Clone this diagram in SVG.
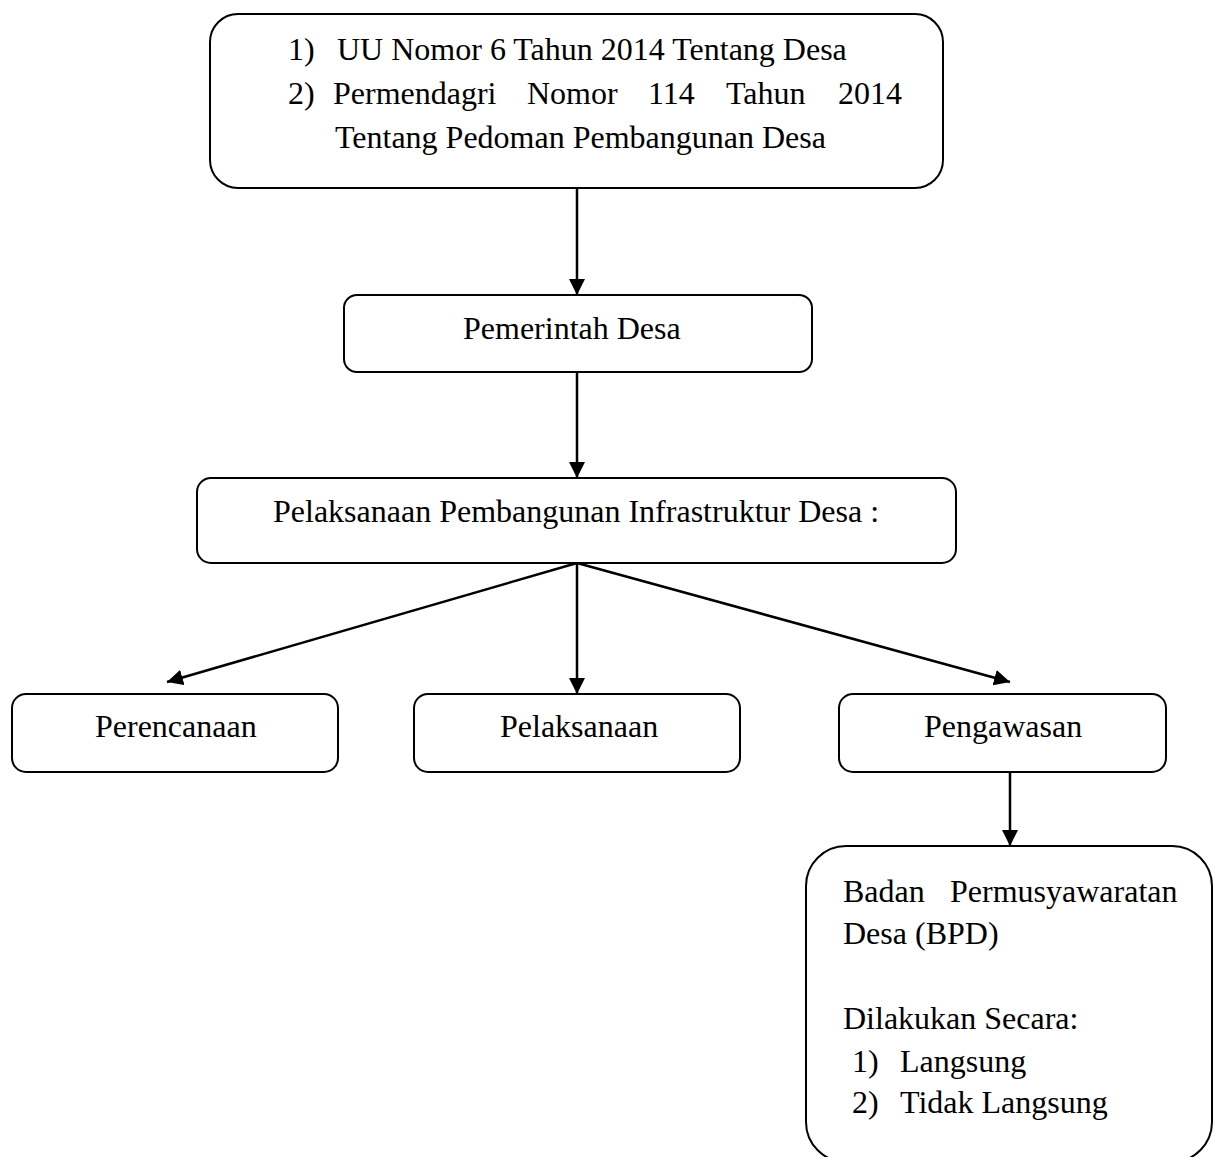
<svg xmlns="http://www.w3.org/2000/svg" width="1214" height="1157" viewBox="0 0 1214 1157">
<defs>
<marker id="arr" markerUnits="userSpaceOnUse" markerWidth="16" markerHeight="16" refX="16" refY="8" orient="auto">
<path d="M0,0 L16,8 L0,16 z" fill="#000"/>
</marker>
<style>
.box{fill:#fff;stroke:#000;stroke-width:2}
.t{font-family:"Liberation Serif","Times New Roman",serif;font-size:32px;fill:#000}
.c{fill:none;stroke:#000;stroke-width:2.5;marker-end:url(#arr)}
</style>
</defs>
<rect width="1214" height="1157" fill="#fff"/>
<g id="connectors">
<line class="c" x1="577" y1="188" x2="577" y2="295"/>
<line class="c" x1="577" y1="372" x2="577" y2="478"/>
<line class="c" x1="577" y1="563" x2="167" y2="682"/>
<line class="c" x1="577" y1="563" x2="577" y2="694"/>
<line class="c" x1="577" y1="563" x2="1010" y2="682"/>
<line class="c" x1="1010" y1="772" x2="1010" y2="846"/>
</g>
<g id="node-regulasi">
<rect class="box" x="210" y="14" width="733" height="174" rx="28"/>
<text class="t" x="288" y="60">1)</text>
<text class="t" x="337" y="60">UU Nomor 6 Tahun 2014 Tentang Desa</text>
<text class="t" x="288" y="104">2)</text>
<text class="t" y="104"><tspan x="333">Permendagri</tspan><tspan x="527">Nomor</tspan><tspan x="648">114</tspan><tspan x="726">Tahun</tspan><tspan x="838">2014</tspan></text>
<text class="t" x="335" y="148">Tentang Pedoman Pembangunan Desa</text>
</g>
<g id="node-pemerintah">
<rect class="box" x="344" y="295" width="468" height="77" rx="13"/>
<text class="t" x="463" y="339">Pemerintah Desa</text>
</g>
<g id="node-pelaksanaan-pembangunan">
<rect class="box" x="197" y="478" width="759" height="85" rx="14"/>
<text class="t" x="273" y="522">Pelaksanaan Pembangunan Infrastruktur Desa :</text>
</g>
<g id="node-perencanaan">
<rect class="box" x="12" y="694" width="326" height="78" rx="14"/>
<text class="t" x="95" y="737">Perencanaan</text>
</g>
<g id="node-pelaksanaan">
<rect class="box" x="414" y="694" width="326" height="78" rx="14"/>
<text class="t" x="500" y="737">Pelaksanaan</text>
</g>
<g id="node-pengawasan">
<rect class="box" x="839" y="694" width="327" height="78" rx="14"/>
<text class="t" x="924" y="737">Pengawasan</text>
</g>
<g id="node-bpd">
<rect class="box" x="806" y="846" width="406" height="316" rx="40"/>
<text class="t" y="902"><tspan x="843">Badan</tspan><tspan x="950">Permusyawaratan</tspan></text>
<text class="t" x="843" y="944">Desa (BPD)</text>
<text class="t" x="843" y="1029">Dilakukan Secara:</text>
<text class="t" x="852" y="1072">1)</text>
<text class="t" x="900" y="1072">Langsung</text>
<text class="t" x="852" y="1113">2)</text>
<text class="t" x="900" y="1113">Tidak Langsung</text>
</g>
</svg>
